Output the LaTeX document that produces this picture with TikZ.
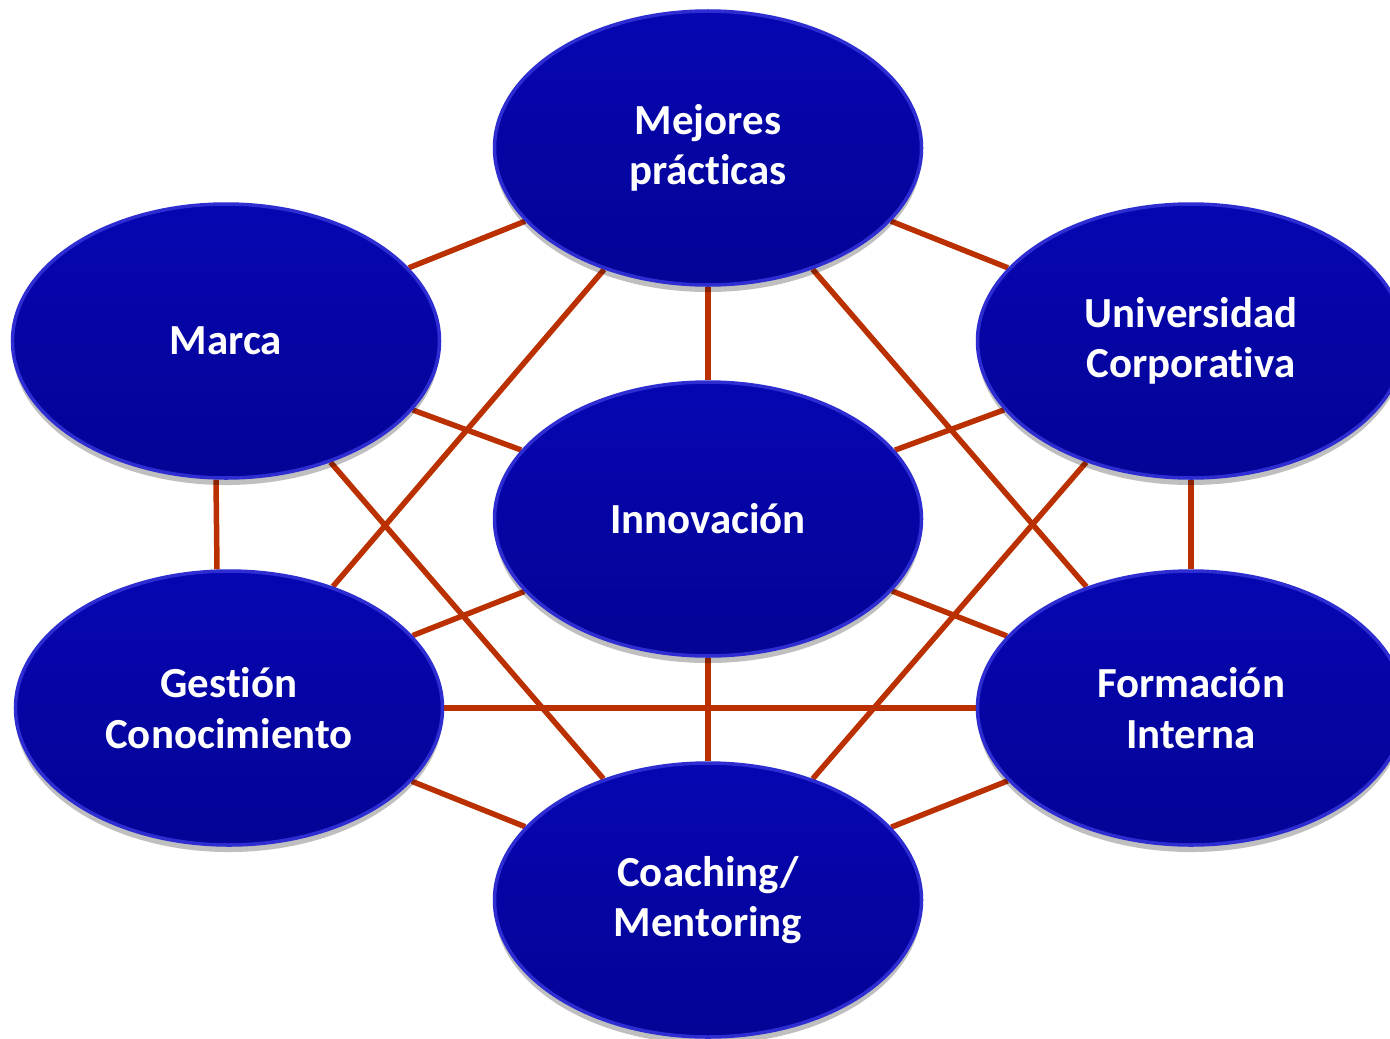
\documentclass[tikz,border=0pt]{standalone}
\usepackage{fontspec}
\setmainfont{Carlito}[RawFeature={-liga;-calt;-dlig}]
\usepackage{tikz}
\usetikzlibrary{shapes.geometric,shadows,backgrounds}
\definecolor{bubbletop}{RGB}{6,6,178}
\definecolor{bubblebot}{RGB}{4,4,150}
\definecolor{bubblerim}{RGB}{45,45,210}
\definecolor{linkred}{RGB}{187,48,0}
\begin{document}
\begin{tikzpicture}[x=0.1mm, y=0.1mm]
\tikzstyle{every node}+=[inner sep=0pt]
\tikzstyle{bubble}=[ellipse, top color=bubbletop, bottom color=bubblebot, draw=bubblerim, line width=1pt,
  minimum width=4.27cm, minimum height=2.74cm, text=white, align=center,
  font=\fontsize{12.2}{14.3}\selectfont\bfseries,
  drop shadow={shadow xshift=0pt, shadow yshift=-2pt, opacity=0.25, fill=black}]
\tikzstyle{link}=[draw=linkred, line width=0.055cm]
\useasboundingbox (0,0) rectangle (1390,-1038);
\node [bubble] (mejores) at (708,-148) {Mejores\\prácticas};
\node [bubble] (marca) at (226,-341) {Marca};
\node [bubble] (univ) at (1191,-341) {Universidad\\Corporativa};
\node [bubble] (innov) at (708,-519) {Innovación};
\node [bubble] (gestion) at (229,-708) {Gestión\\Conocimiento};
\node [bubble] (formacion) at (1191,-708) {Formación\\Interna};
\node [bubble] (coaching) at (708,-900) {Coaching/\\Mentoring};
\begin{pgfonlayer}{background}
\foreach \a/\b in {mejores/marca, mejores/univ, mejores/innov, mejores/gestion, mejores/formacion,
  marca/innov, marca/coaching, univ/innov, univ/formacion, univ/coaching,
  innov/gestion, innov/formacion, innov/coaching,
  gestion/formacion, gestion/coaching, formacion/coaching}
  \draw [link] (\a) -- (\b);
% vertical link on the left sits a little off centre
\draw [link] ([xshift=-0.1cm]marca.south) -- ([xshift=-0.12cm]gestion.north);
\end{pgfonlayer}
\end{tikzpicture}
\end{document}
